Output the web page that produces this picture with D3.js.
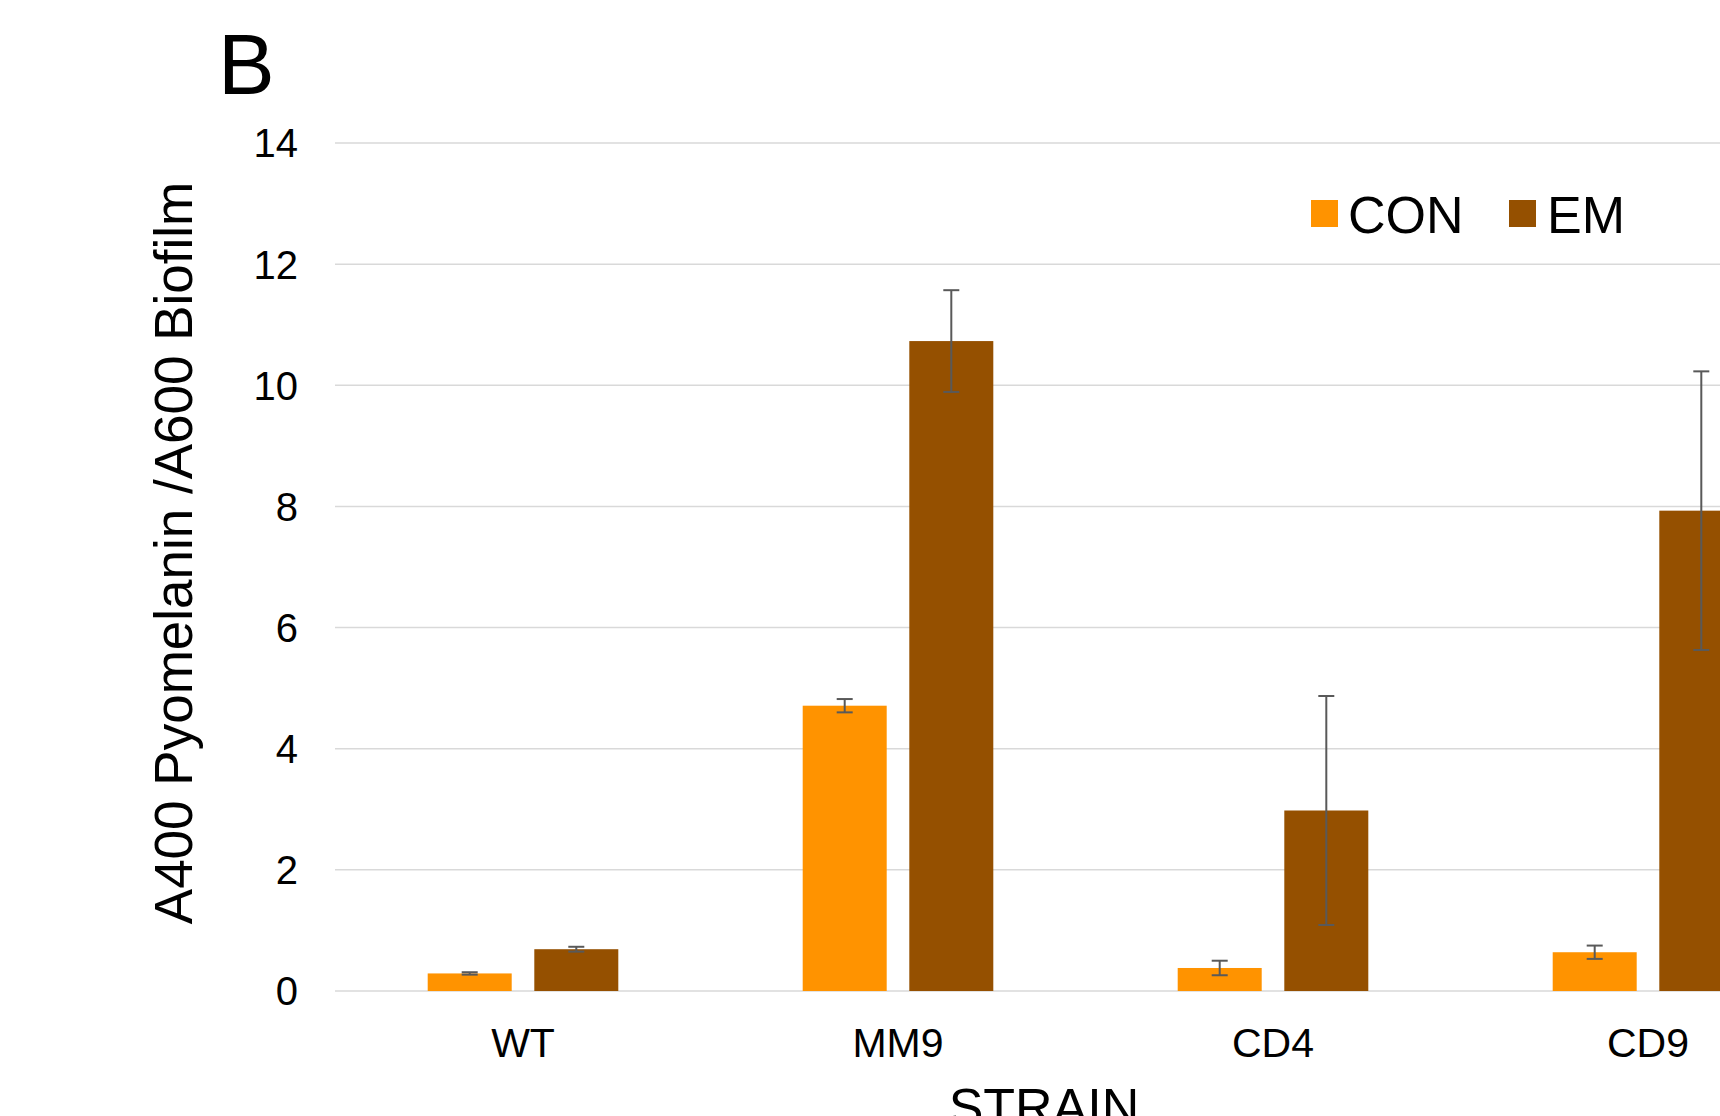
<!DOCTYPE html>
<html>
<head>
<meta charset="utf-8">
<script src="https://cdn.jsdelivr.net/npm/d3@7"></script>
<style>
  html, body { margin: 0; padding: 0; background: #fff; overflow: hidden; }
  svg { display: block; }
  text { font-family: "Liberation Sans", Arial, sans-serif; fill: #000; }
</style>
</head>
<body>
<svg id="chart" width="1720" height="1116"></svg>
<script>
const categories = ["WT", "MM9", "CD4", "CD9"];
const seriesNames = ["CON", "EM"];
const conValues = [0.29, 4.71, 0.38, 0.64];
const emValues = [0.69, 10.73, 2.98, 7.93];
const conErr = [0.02, 0.11, 0.12, 0.11];
const emErr = [0.04, 0.84, 1.89, 2.30];
const yTicks = [0, 2, 4, 6, 8, 10, 12, 14];
const colors = { CON: "#FF9300", EM: "#955000" };

const svg = d3.select("#chart");

const x0 = d3.scaleBand().domain(categories).range([335.5, 1835.5]).padding(0);
const bw0 = x0.bandwidth();
const x1 = d3.scaleBand().domain(seriesNames)
  .range([bw0 / 2 - 95.3, bw0 / 2 + 95.3]).paddingInner(0.212).paddingOuter(0);
const y = d3.scaleLinear().domain([0, 14]).range([991, 143]);

// gridlines
svg.append("g").selectAll("line").data(yTicks).join("line")
  .attr("x1", 335).attr("x2", 1835)
  .attr("y1", d => y(d)).attr("y2", d => y(d))
  .attr("stroke", "#D9D9D9").attr("stroke-width", 1.5);

// y tick labels
svg.append("g").selectAll("text").data(yTicks).join("text")
  .attr("x", 298).attr("y", d => y(d)).attr("dy", "0.36em")
  .attr("text-anchor", "end").attr("font-size", 40)
  .text(d => d);

const data = categories.map((c, i) => ({
  cat: c,
  vals: [
    { s: "CON", v: conValues[i], e: conErr[i] },
    { s: "EM", v: emValues[i], e: emErr[i] }
  ]
}));

const groups = svg.append("g").selectAll("g").data(data).join("g")
  .attr("transform", d => `translate(${x0(d.cat)},0)`);

groups.selectAll("rect").data(d => d.vals).join("rect")
  .attr("x", d => x1(d.s)).attr("width", x1.bandwidth())
  .attr("y", d => y(d.v)).attr("height", d => y(0) - y(d.v))
  .attr("fill", d => colors[d.s]);

// error bars
const eb = groups.selectAll("g.err").data(d => d.vals).join("g").attr("class", "err");
eb.append("line")
  .attr("x1", d => x1(d.s) + x1.bandwidth() / 2).attr("x2", d => x1(d.s) + x1.bandwidth() / 2)
  .attr("y1", d => y(d.v + d.e)).attr("y2", d => y(d.v - d.e))
  .attr("stroke", "#595959").attr("stroke-width", 2);
eb.selectAll("line.cap").data(d => [{ d, t: d.v + d.e }, { d, t: d.v - d.e }]).join("line")
  .attr("class", "cap")
  .attr("x1", o => x1(o.d.s) + x1.bandwidth() / 2 - 8).attr("x2", o => x1(o.d.s) + x1.bandwidth() / 2 + 8)
  .attr("y1", o => y(o.t)).attr("y2", o => y(o.t))
  .attr("stroke", "#595959").attr("stroke-width", 2);

// x tick labels
svg.append("g").selectAll("text").data(categories).join("text")
  .attr("x", d => x0(d) + bw0 / 2).attr("y", 1057)
  .attr("text-anchor", "middle").attr("font-size", 41)
  .text(d => d);

// axis titles
svg.append("text")
  .attr("transform", "translate(192,553) rotate(-90)")
  .attr("text-anchor", "middle").attr("font-size", 53)
  .text("A400 Pyomelanin /A600 Biofilm");

svg.append("text")
  .attr("x", 1044).attr("y", 1125).attr("text-anchor", "middle").attr("font-size", 52)
  .text("STRAIN");

// panel letter
svg.append("text").attr("x", 218).attr("y", 94).attr("font-size", 85).text("B");

// legend
const legend = [
  { s: "CON", bx: 1311, tx: 1348 },
  { s: "EM", bx: 1509, tx: 1547 }
];
const lg = svg.append("g").selectAll("g").data(legend).join("g");
lg.append("rect").attr("x", d => d.bx).attr("y", 200).attr("width", 27).attr("height", 27)
  .attr("fill", d => colors[d.s]);
lg.append("text").attr("x", d => d.tx).attr("y", 233).attr("font-size", 52).text(d => d.s);
</script>
</body>
</html>
